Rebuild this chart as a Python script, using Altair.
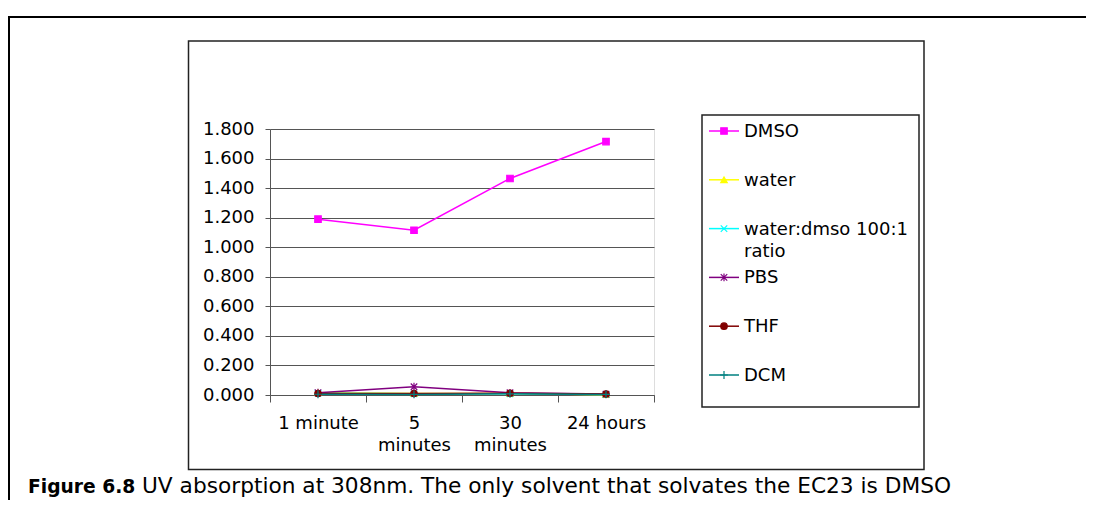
import altair as alt
import pandas as pd

times = ["1 minute", "5 minutes", "30 minutes", "24 hours"]
series = ["DMSO", "water", "water:dmso 100:1 ratio", "PBS", "THF", "DCM"]
legend_labels = [["DMSO"], ["water"], ["water:dmso 100:1", "ratio"], ["PBS"], ["THF"], ["DCM"]]
colors = ["#FF00FF", "#FFFF00", "#00FFFF", "#800080", "#800000", "#008080"]
shapes = [
    "square",
    "triangle-up",
    "M-1,-1L1,1M-1,1L1,-1",
    "M-1,-1L1,1M-1,1L1,-1M0,-1.2L0,1.2",
    "circle",
    "M-1.2,0L1.2,0M0,-1.2L0,1.2",
]
dmso = [1.190, 1.115, 1.465, 1.715]
water = [0.016, 0.010, 0.010, 0.002]
water_dmso = [0.012, 0.008, 0.008, 0.003]
pbs = [0.016, 0.056, 0.015, 0.006]
thf = [0.010, 0.010, 0.012, 0.006]
dcm = [0.005, 0.004, 0.008, 0.004]
y_ticks = [0.0, 0.2, 0.4, 0.6, 0.8, 1.0, 1.2, 1.4, 1.6, 1.8]
caption_bold = "Figure 6.8"
caption_text = "UV absorption at 308nm. The only solvent that solvates the EC23 is DMSO"

rows = []
for s, vals in zip(series, [dmso, water, water_dmso, pbs, thf, dcm]):
    for t, v in zip(times, vals):
        rows.append({"time": t, "series": s, "value": v, "order": series.index(s)})
df = pd.DataFrame(rows)
leg = pd.DataFrame({"series": series, "idx": list(range(len(series))), "label": legend_labels})

FONT = "DejaVu Sans"
FS = 18
W, H = 384, 266

color_scale = alt.Scale(domain=series, range=colors)
shape_scale = alt.Scale(domain=series, range=shapes)
x_enc = alt.X(
    "time:N", sort=times, title=None, bandPosition=0.5,
    scale=alt.Scale(type="band", domain=times, paddingInner=0, paddingOuter=0),
    axis=alt.Axis(
        tickBand="extent", labelAngle=0, grid=False, domainColor="#555555", tickColor="#555555",
        tickSize=7, labelPadding=12, labelFontSize=FS, labelColor="#000000", labelFont=FONT,
        labelLineHeight=22, labelBaseline="top",
        labelExpr="(datum.label == '5 minutes' || datum.label == '30 minutes') ? split(datum.label, ' ') : datum.label",
    ),
)
y_scale = alt.Scale(domain=[0, 1.8], nice=False, zero=True)

one = pd.DataFrame({"a": [0]})

outer = alt.Chart(one).mark_rect(fillOpacity=0, stroke="#000000", strokeWidth=2).encode(
    x=alt.value(-261), x2=alt.value(1500), y=alt.value(-112), y2=alt.value(1000))
box = alt.Chart(one).mark_rect(fillOpacity=0, stroke="#222222", strokeWidth=1.5).encode(
    x=alt.value(-81.5), x2=alt.value(654), y=alt.value(-88), y2=alt.value(340.5))
legbox = alt.Chart(one).mark_rect(fillOpacity=0, stroke="#222222", strokeWidth=1.5).encode(
    x=alt.value(432), x2=alt.value(649), y=alt.value(-14), y2=alt.value(278))

lines = alt.Chart(df).mark_line(strokeWidth=1.5).encode(
    x=x_enc,
    y=alt.Y("value:Q", scale=y_scale, title=None,
            axis=alt.Axis(values=y_ticks, format=".3f", grid=True, gridColor="#555555",
                          domainColor="#555555", tickColor="#555555", tickSize=5,
                          labelPadding=11, labelFontSize=FS, labelFont=FONT, labelColor="#000000")),
    color=alt.Color("series:N", scale=color_scale, legend=None),
    detail="series:N",
    order="order:Q",
)
points = alt.Chart(df).mark_point(filled=True, size=42, opacity=1, strokeWidth=1.2).encode(
    x=x_enc,
    y=alt.Y("value:Q", scale=y_scale, axis=None),
    color=alt.Color("series:N", scale=color_scale, legend=None),
    stroke=alt.Stroke("series:N", scale=color_scale, legend=None),
    shape=alt.Shape("series:N", scale=shape_scale, legend=None),
    order="order:Q",
)

leg_y = alt.Y("idx:Q", scale=alt.Scale(domain=[0, 5], range=[2, 246], nice=False, zero=False), axis=None)
leg_lines = alt.Chart(leg).mark_rule(strokeWidth=1.5).encode(
    x=alt.value(439), x2=alt.value(469), y=leg_y,
    color=alt.Color("series:N", scale=color_scale, legend=None),
)
leg_points = alt.Chart(leg).mark_point(filled=True, size=42, opacity=1, strokeWidth=1.2).encode(
    x=alt.value(454), y=leg_y,
    color=alt.Color("series:N", scale=color_scale, legend=None),
    stroke=alt.Stroke("series:N", scale=color_scale, legend=None),
    shape=alt.Shape("series:N", scale=shape_scale, legend=None),
)
leg_text = alt.Chart(leg).mark_text(align="left", baseline="alphabetic", dy=6, font=FONT,
                                    fontSize=FS, color="#000000", lineHeight=22).encode(
    x=alt.value(474), y=leg_y, text="label")

cap1 = alt.Chart(pd.DataFrame({"t": [caption_bold]})).mark_text(
    align="left", baseline="alphabetic", font=FONT, fontSize=18.7, fontWeight="bold", color="#000000"
).encode(x=alt.value(-242), y=alt.value(364), text="t:N")
cap2 = alt.Chart(pd.DataFrame({"t": [caption_text]})).mark_text(
    align="left", baseline="alphabetic", font=FONT, fontSize=21.7, color="#000000"
).encode(x=alt.value(-128), y=alt.value(364), text="t:N")

chart = alt.layer(
    outer, box, legbox, lines, points, leg_lines, leg_points, leg_text, cap1, cap2
).resolve_scale(y="independent").properties(
    width=W, height=H,
    padding={"left": 262, "top": 121, "right": 432, "bottom": 105},
    autosize=alt.AutoSizeParams(type="none"),
    background="#FFFFFF",
).configure_view(stroke="#808080", strokeWidth=1).configure(font=FONT)

chart.save("out.html", embed_options={"renderer": "svg", "actions": False})
